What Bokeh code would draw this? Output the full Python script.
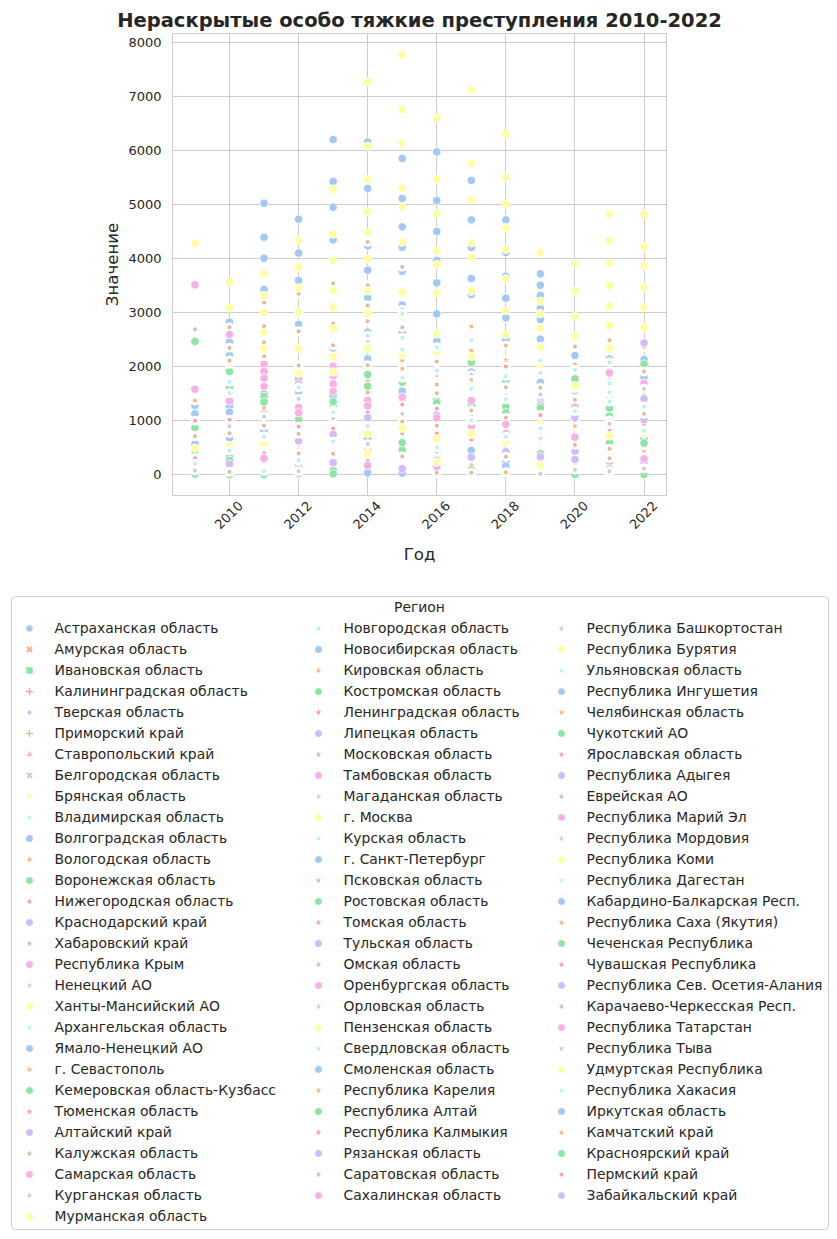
from bokeh.plotting import figure
from bokeh.layouts import column
from bokeh.embed import file_html
from bokeh.resources import INLINE
from bokeh.models import FixedTicker, Range1d, BoxAnnotation, LinearAxis
from bokeh.core.properties import value
import math

TITLE = "Нераскрытые особо тяжкие преступления 2010-2022"
XLABEL = "Год"
YLABEL = "Значение"
LEGEND_TITLE = "Регион"
X_TICKS = [2010, 2012, 2014, 2016, 2018, 2020, 2022]
Y_TICKS = [0, 1000, 2000, 3000, 4000, 5000, 6000, 7000, 8000]
REGIONS = [
 "Астраханская область","Амурская область","Ивановская область","Калининградская область","Тверская область",
 "Приморский край","Ставропольский край","Белгородская область","Брянская область","Владимирская область",
 "Волгоградская область","Вологодская область","Воронежская область","Нижегородская область","Краснодарский край",
 "Хабаровский край","Республика Крым","Ненецкий АО","Ханты-Мансийский АО","Архангельская область",
 "Ямало-Ненецкий АО","г. Севастополь","Кемеровская область-Кузбасс","Тюменская область","Алтайский край",
 "Калужская область","Самарская область","Курганская область","Мурманская область",
 "Новгородская  область","Новосибирская область","Кировская область","Костромская область","Ленинградская область",
 "Липецкая область","Московская область","Тамбовская область","Магаданская область","г. Москва",
 "Курская область","г. Санкт-Петербург","Псковская область","Ростовская область","Томская область",
 "Тульская область","Омская область","Оренбургская область","Орловская область","Пензенская область",
 "Свердловская область","Смоленская область","Республика Карелия","Республика Алтай","Республика Калмыкия",
 "Рязанская область","Саратовская область","Сахалинская область",
 "Республика Башкортостан","Республика Бурятия","Ульяновская область","Республика Ингушетия","Челябинская область",
 "Чукотский АО","Ярославская область","Республика Адыгея","Еврейская АО","Республика Марий Эл",
 "Республика Мордовия","Республика Коми","Республика Дагестан","Кабардино-Балкарская Респ.","Республика Саха (Якутия)",
 "Чеченская Республика","Чувашская Республика","Республика Сев. Осетия-Алания","Карачаево-Черкесская Респ.","Республика Татарстан",
 "Республика Тыва","Удмуртская Республика","Республика Хакасия","Иркутская область","Камчатский край",
 "Красноярский край","Пермский край","Забайкальский край",
]
PALETTE = ["#a1c9f4","#ffb482","#8de5a1","#ff9f9b","#d0bbff","#debb9b","#fab0e4","#cfcfcf","#fffea3","#b9f2f0"]

BLUE = {2009:[1278,1123,568],2010:[2821,2451,2210,1265,1154,679,321],2011:[5025,4395,4006,3426,1494,815],
 2012:[4728,4100,3593,2778,1772,1537,815,414,198],2013:[6204,5426,4950,4346,2346,1463],
 2014:[6160,5296,4235,3784,3272,2636,2142,673,31],2015:[5852,5111,4586,4210,3765,3142,2636,1543,25],
 2016:[5975,5074,4500,3963,3549,2975,2469,389],2017:[5444,4716,4204,3630,3333,1895,444],
 2018:[4716,4111,3673,3265,2901,2494,235,154],2019:[3716,3506,3315,3080,2870,2506,1704,1278],
 2020:[2204,1556,86],2021:[1720,1400],2022:[2130,1802,660]}
ORANGE = {2009:[1370],2010:[1480,830],2011:[1241,241],2012:[1340,390],2013:[1600,360],2014:[1728,1519,240],
 2015:[2111,1957,617],2016:[1230,420],2017:[2741,2296,173],2018:[2389,2117,1957,43],2019:[2360,1540,610],
 2020:[2037,900],2021:[2488,1290,370],2022:[2364,1475,420]}
GREEN = {2009:[2463,870,444,10],2010:[1907,1611,259,0],2011:[1444,1340,1000,0],2012:[1019,1240,30],
 2013:[1259,1350,74,12],2014:[1852,1636,1062],2015:[1710,1380,457,590],2016:[1370,1327,796],
 2017:[2074,1296,86],2018:[2031,1741,1259,1142],2019:[1074,1230,383],2020:[1772,1100,0],
 2021:[2142,1228,1080,586],2022:[2043,580,0]}
RED = {2009:[994,302],2010:[2050,1012],2011:[704,395],2012:[883,1200],2013:[852,1180],2014:[1154,895],
 2015:[1296,877],2016:[1216,760],2017:[1840,1080,642],2018:[2000,395],2019:[1100,241],2020:[1019,430],
 2021:[1000,827],2022:[938,321]}
PURPLE = {2010:[191],2011:[630],2012:[623,19],2013:[741,216],2014:[1050,500],2015:[105],2016:[259,1100],
 2017:[321,1000],2018:[1620,420],2019:[1400,330],2020:[432,278,1050],2021:[1895,241,105],2022:[2438,1401,1019,235]}
BROWN = {2009:[2691,710],2010:[2728,2346,2111,765,49],2011:[3185,2747,2451,2191,907],
 2012:[3890,3346,2988,2654,2333,2019,753],2013:[3543,3148,2796,2395,383],2014:[4308,3506,3130,2840,2481,2025,253],
 2015:[3846,3377,3049,2728,981,759,333],2016:[2093,1815,1667,1506,901,31],2017:[1185,750,31],
 2018:[1617,1050,330],2019:[1605,760],2020:[2370,1383,549],2021:[1660,475,300,43],2022:[1907,1123]}
PINK = {2009:[3512,1580,167],2010:[2593,1364],2011:[2037,1907,1784,1630,1123,300],2012:[1679,1247,1142,105],
 2013:[2006,1827,1679,1540],2014:[1370,1272,568,167],2015:[1432,1140],2016:[1049,148],2017:[1370,895],
 2018:[932,759],2019:[1440],2020:[1247,691],2021:[920,1880],2022:[1691,290]}
GRAY = {2009:[74],2010:[895],2011:[1074],2012:[1400,60],2013:[1043],2014:[560],2015:[1123],2016:[580,1840],
 2017:[1753],2018:[1469],2019:[1481,12],2020:[1600,90],2021:[940,60],2022:[1586,111]}
YELLOW = {2009:[4284,488],2010:[3562,3086,525],2011:[3716,3315,3000,2630,2327,586],
 2012:[4333,3846,3457,3006,2333,1870],2013:[5284,4450,3963,3407,3093,2698,2179,1895,599],
 2014:[7272,6080,5463,4864,4482,3988,3401,2981,2333,753,401],
 2015:[7778,6759,6130,5302,4957,4302,3377,2932,2216,860],
 2016:[6599,5469,4827,4142,3890,3358,2605,2284,660,228],2017:[7123,5759,5086,4290,4019,3395,2185,1630,759],
 2018:[6302,5506,5006,4568,4167,3623,3037,2593,611],2019:[4111,3210,2981,2704,2358,2019,938,167],
 2020:[3914,3401,2926,2568,1642],2021:[4827,4333,3914,3500,3117,2759,2333,716],
 2022:[4821,4216,3864,3469,3093,2728,753]}
CYAN = {2009:[200],2010:[1716,1506,444],2011:[62,700],2012:[1611,259],2013:[1150,610],2014:[2568,900],
 2015:[2975,2531,2315,1790],2016:[2358,1926,500],2017:[2481,1586,1000],2018:[1821,1395,700],
 2019:[2117,1883,858,673],2020:[1938,1173],2021:[2080,1691,1525,1352],2022:[1259,810]}
SERIES = [BLUE, ORANGE, GREEN, RED, PURPLE, BROWN, PINK, GRAY, YELLOW, CYAN]

X0, X1 = 2008.35, 2022.65
LABEL_SHIFT = 0.32  # years: centres the rotated labels under their ticks

p = figure(width=829, height=580, output_backend="svg", toolbar_location=None,
           x_range=Range1d(X0, X1), y_range=Range1d(-389, 8167),
           min_border_left=172, min_border_right=163, min_border_top=33, min_border_bottom=85,
           frame_align=False)
p.extra_x_ranges = {"labels": Range1d(X0 - LABEL_SHIFT, X1 - LABEL_SHIFT)}
xlab = LinearAxis(x_range_name="labels", ticker=FixedTicker(ticks=X_TICKS))
p.add_layout(xlab, "below")
p.xaxis[0].visible = False
p.xaxis[0].ticker = FixedTicker(ticks=X_TICKS)
p.yaxis[0].ticker = FixedTicker(ticks=Y_TICKS)
p.outline_line_color = "#cccccc"
p.title.text = TITLE
p.title.align = "center"
p.title.text_font = "DejaVu Sans"
p.title.text_font_size = "19.5px"
p.title.text_font_style = "bold"
p.title.text_color = "#262626"
p.title.standoff = 3
for ax in (xlab, p.yaxis[0]):
    ax.axis_line_color = None
    ax.major_tick_line_color = None
    ax.minor_tick_line_color = None
    ax.major_label_text_font = "DejaVu Sans"
    ax.major_label_text_font_size = "13px"
    ax.major_label_text_color = "#262626"
    ax.axis_label_text_font = "DejaVu Sans"
    ax.axis_label_text_font_size = "16.6px"
    ax.axis_label_text_font_style = "normal"
    ax.axis_label_text_color = "#262626"
xlab.axis_label = XLABEL
p.yaxis[0].axis_label = YLABEL
xlab.axis_label_standoff = 9
p.yaxis[0].axis_label_standoff = 3
xlab.major_label_orientation = math.pi / 4
xlab.major_label_standoff = 2
p.xgrid.grid_line_color = "#cccccc"
p.ygrid.grid_line_color = "#cccccc"
p.xgrid.grid_line_width = 1
p.ygrid.grid_line_width = 1

for i, series in enumerate(SERIES):
    xs, ys = [], []
    for yr, vals in series.items():
        xs += [yr] * len(vals)
        ys += vals
    big = i % 2 == 0
    p.scatter(xs, ys, size=8.4 if big else 7, fill_color=PALETTE[i], line_color="white",
              line_width=0.8 if big else 3)

# legend panel, in page pixels
leg = figure(width=829, height=652, output_backend="svg", toolbar_location=None,
             x_range=Range1d(0, 829), y_range=Range1d(1232, 580),
             x_axis_type=None, y_axis_type=None, min_border=0, frame_align=False)
leg.outline_line_color = None
leg.xgrid.visible = False
leg.ygrid.visible = False
leg.add_layout(BoxAnnotation(left=11, right=828, top=596, bottom=1229, fill_color=None,
                             line_color="#cccccc", line_alpha=1, line_width=1, border_radius=4))
leg.text([419], [606], text=[LEGEND_TITLE], text_font=value("DejaVu Sans"), text_font_size="13.9px",
         text_color="#262626", text_align="center", text_baseline="middle")

COL_X = [29, 318, 561]
COL_ROWS = [29, 28, 28]
FIRST = ["circle","x","square","cross","diamond","cross","triangle","x","inverted_triangle"]
idx = 0
for c, rows in enumerate(COL_ROWS):
    for r in range(rows):
        y = 628 + 21 * r
        name = REGIONS[idx]
        color = PALETTE[idx % 10]
        if idx < 9:
            m = FIRST[idx]
            line_mark = m in ("x", "cross")
            leg.scatter([COL_X[c]], [y], marker=m, size=7,
                        fill_color=color, line_color=color if line_mark else "white",
                        line_width=(2.2 if m == "x" else 1.3) if line_mark else 0.6)
        elif idx % 2 == 0:
            leg.scatter([COL_X[c]], [y], marker="circle", size=7.6, fill_color=color,
                        line_color="white", line_width=0.6)
        else:
            leg.scatter([COL_X[c]], [y], marker="star", size=6.5, fill_color=color,
                        line_color=None)
        leg.text([COL_X[c] + 25], [y - 1], text=[name], text_font=value("DejaVu Sans"), text_font_size="13.9px",
                 text_color="#262626", text_baseline="middle")
        idx += 1

open("out.html", "w").write(file_html(column(p, leg), INLINE))
